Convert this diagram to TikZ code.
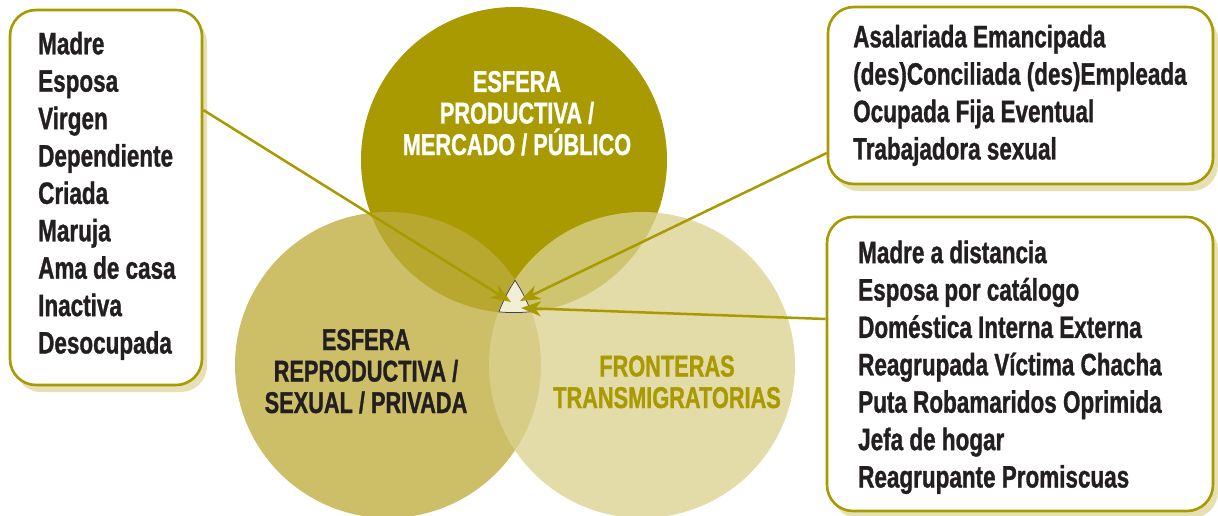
\documentclass[tikz,border=0pt]{standalone}
\usepackage{fontspec}
\setmainfont{Liberation Sans}[FakeStretch=0.725, BoldFeatures={FakeBold=1}]
\usetikzlibrary{arrows.meta,shadows}
\definecolor{oliva}{HTML}{A89A00}
\definecolor{repro}{HTML}{BFAD3E}
\definecolor{fronte}{HTML}{DBD291}
\definecolor{sombra}{HTML}{E6E0B4}
\definecolor{crema}{HTML}{F3EED8}
\definecolor{tinta}{HTML}{231F20}
\tikzset{
  esfera/.style={circle, minimum size=306pt, inner sep=0pt, outer sep=0pt},
  caja/.style={draw=oliva, line width=2.6pt, fill=white, rounded corners=26pt, inner sep=0pt,
    drop shadow={shadow xshift=5pt, shadow yshift=-7pt, fill=sombra, opacity=1}},
  lista/.style={font=\bfseries\fontsize{31}{37.4}\selectfont, text=tinta, align=left, inner sep=0pt, anchor=base west},
  rotulo/.style={font=\bfseries\fontsize{30}{31.5}\selectfont, align=center, inner sep=0pt, anchor=base},
  flecha/.style={draw=oliva, line width=2.5pt, -{Stealth[length=20pt,width=15pt,inset=6pt]}}
}
\begin{document}
\begin{tikzpicture}[x=1pt,y=-1pt]
    \useasboundingbox (0,0) rectangle (1218,516);
    \node[esfera, fill=oliva] (prod) at (514,160) {};
    \node[esfera, fill=repro, fill opacity=0.78] (repr) at (388,365) {};
    \node[esfera, fill=fronte, fill opacity=0.78] (tran) at (642,365) {};
    \begin{scope}
      \clip (prod.center) circle (153);
      \clip (repr.center) circle (153);
      \clip (tran.center) circle (153);
      \fill[crema] (prod.center) circle (153);
      \foreach \c in {prod,repr,tran}
        \draw[tinta!85, line width=1.6pt] (\c.center) circle (153);
    \end{scope}
    \node[rotulo, text=white] (prodtxt) at (517,155) {ESFERA\\PRODUCTIVA /\\MERCADO / PÚBLICO};
    \node[rotulo, text=tinta] (reprtxt) at (366,413) {ESFERA\\REPRODUCTIVA /\\SEXUAL / PRIVADA};
    \node[rotulo, text=oliva] (trantxt) at (667,408) {FRONTERAS\\TRANSMIGRATORIAS};
    \node[caja, minimum width=192pt, minimum height=375pt] (roles) at (106,197.5) {};
    \node[caja, minimum width=385pt, minimum height=177pt] (empleo) at (1020.5,95.5) {};
    \node[caja, minimum width=386pt, minimum height=294pt] (migra) at (1020,364) {};
    \node[lista] (rolestxt) at (38,353.5) {Madre\\Esposa\\Virgen\\Dependiente\\Criada\\Maruja\\Ama de casa\\Inactiva\\Desocupada};
    \node[lista] (empleotxt) at (853,159.5) {Asalariada Emancipada\\(des)Conciliada (des)Empleada\\Ocupada Fija Eventual\\Trabajadora sexual};
    \node[lista] (migratxt) at (858,487.5) {Madre a distancia\\Esposa por catálogo\\Doméstica Interna Externa\\Reagrupada Víctima Chacha\\Puta Robamaridos Oprimida\\Jefa de hogar\\Reagrupante Promiscuas};
    \coordinate (cruce1) at (511,302);
    \coordinate (cruce2) at (520,301);
    \coordinate (cruce3) at (521,308);
    \draw[flecha] (roles.east |- 0,110) -- (cruce1);
    \draw[flecha] (empleo.west |- 0,153) -- (cruce2);
    \draw[flecha] (migra.west |- 0,319) -- (cruce3);
\end{tikzpicture}
\end{document}
